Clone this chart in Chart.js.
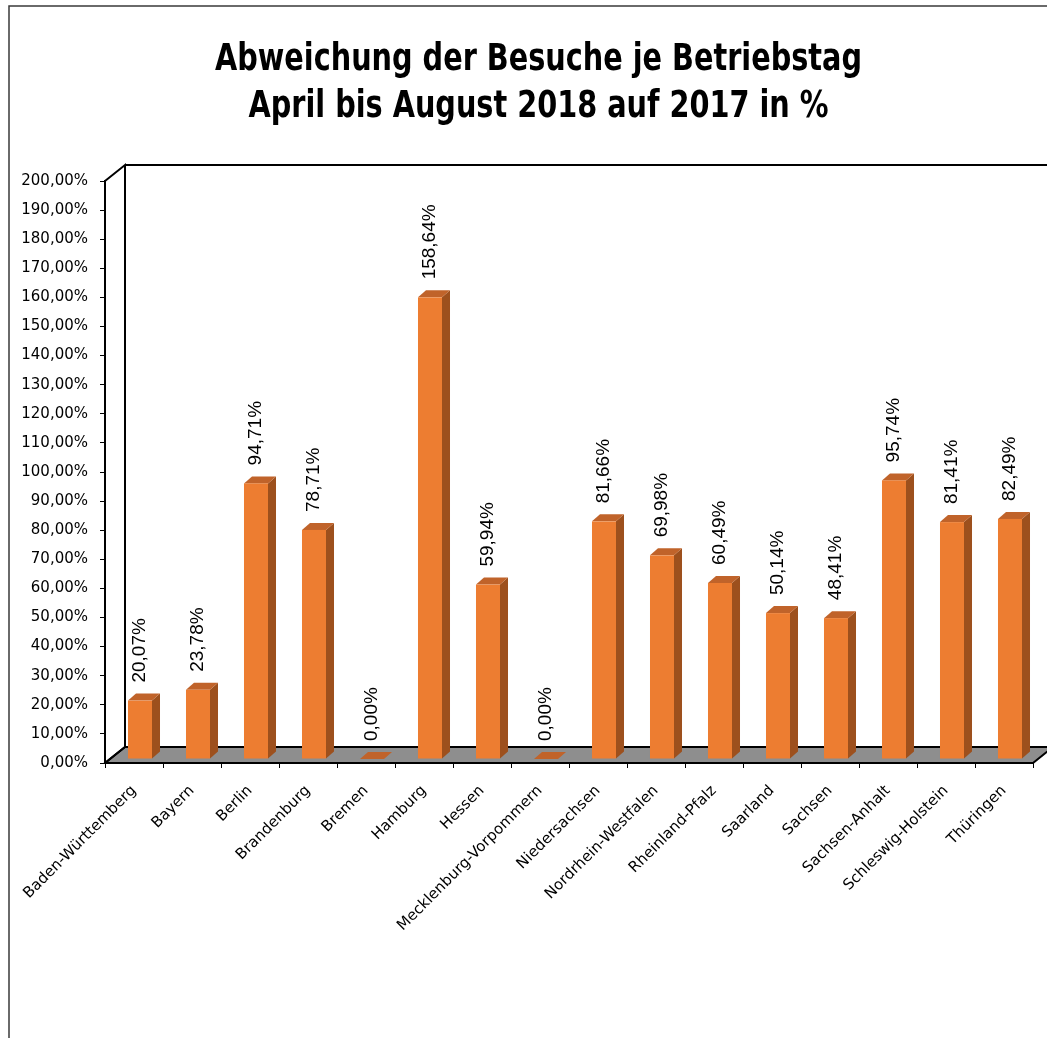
<!DOCTYPE html>
<html>
<head>
<meta charset="utf-8">
<script src="https://cdn.jsdelivr.net/npm/chart.js@4.4.1/dist/chart.umd.min.js"></script>
<style>
  html, body { margin: 0; padding: 0; background: #ffffff; }
  #wrap { width: 1047px; height: 1038px; }
</style>
</head>
<body>
<div id="wrap"><canvas id="c" width="1047" height="1038"></canvas></div>
<script>
const titleLines = ['Abweichung der Besuche je Betriebstag', 'April bis August 2018 auf 2017 in %'];
const categories = ['Baden-Württemberg', 'Bayern', 'Berlin', 'Brandenburg', 'Bremen', 'Hamburg', 'Hessen',
  'Mecklenburg-Vorpommern', 'Niedersachsen', 'Nordrhein-Westfalen', 'Rheinland-Pfalz', 'Saarland',
  'Sachsen', 'Sachsen-Anhalt', 'Schleswig-Holstein', 'Thüringen'];
const values = [20.07, 23.78, 94.71, 78.71, 0.00, 158.64, 59.94, 0.00, 81.66, 69.98, 60.49, 50.14, 48.41, 95.74, 81.41, 82.49];
const yMin = 0, yMax = 200, yStep = 10;

const fmt = v => v.toFixed(2).replace('.', ',') + '%';

// 3D depth of the chart box and of the bars
const BOX_DX = 20, BOX_DY = -16;
const BAR_SHIFT_X = 6, BAR_SHIFT_Y = -4;
const BAR_DX = 8, BAR_DY = -7;

const framePlugin = {
  id: 'frame3d',
  beforeDraw(chart) {
    const ctx = chart.ctx;
    const ca = chart.chartArea;
    const ys = chart.scales.y;
    const B = ys.getPixelForValue(yMin);
    const T = ys.getPixelForValue(yMax);
    const L = ca.left, R = ca.right;
    ctx.save();
    ctx.fillStyle = '#ffffff';
    ctx.fillRect(0, 0, chart.width, chart.height);
    // outer frame
    ctx.strokeStyle = '#3a3a3a';
    ctx.lineWidth = 1.5;
    ctx.strokeRect(9, 6, 1200, 1200);
    // title
    ctx.fillStyle = '#000000';
    ctx.font = 'bold 37px "DejaVu Sans Condensed", "DejaVu Sans", sans-serif';
    ctx.textAlign = 'center';
    ctx.textBaseline = 'alphabetic';
    const sx = 647 / ctx.measureText(titleLines[0]).width;
    titleLines.forEach((line, i) => {
      ctx.save();
      ctx.translate(538.5, 70 + i * 47);
      ctx.scale(sx, 1);
      ctx.fillText(line, 0, 0);
      ctx.restore();
    });
    // floor
    ctx.beginPath();
    ctx.moveTo(L, B);
    ctx.lineTo(R, B);
    ctx.lineTo(R + BOX_DX, B + BOX_DY);
    ctx.lineTo(L + BOX_DX, B + BOX_DY);
    ctx.closePath();
    ctx.fillStyle = '#8e8e8e';
    ctx.fill();
    ctx.strokeStyle = '#000000';
    ctx.lineWidth = 2;
    ctx.lineJoin = 'miter';
    ctx.stroke();
    // back wall lines
    ctx.beginPath();
    ctx.moveTo(L, T);
    ctx.lineTo(L + BOX_DX, T + BOX_DY);
    ctx.lineTo(L + BOX_DX, B + BOX_DY);
    ctx.moveTo(L + BOX_DX, T + BOX_DY);
    ctx.lineTo(R + BOX_DX + 40, T + BOX_DY);
    ctx.moveTo(L, B);
    ctx.lineTo(L + BOX_DX, B + BOX_DY);
    ctx.stroke();
    ctx.restore();
  }
};

const barsPlugin = {
  id: 'bars3d',
  afterDatasetsDraw(chart) {
    const ctx = chart.ctx;
    const meta = chart.getDatasetMeta(0);
    const data = chart.data.datasets[0].data;
    ctx.save();
    meta.data.forEach((el, i) => {
      const p = el.getProps(['x', 'y', 'base', 'width'], true);
      const fl = p.x - p.width / 2 + BAR_SHIFT_X;
      const fr = p.x + p.width / 2 + BAR_SHIFT_X;
      const ft = p.y + BAR_SHIFT_Y;
      const fb = p.base + BAR_SHIFT_Y;
      // side face
      ctx.beginPath();
      ctx.moveTo(fr, ft);
      ctx.lineTo(fr + BAR_DX, ft + BAR_DY);
      ctx.lineTo(fr + BAR_DX, fb + BAR_DY);
      ctx.lineTo(fr, fb);
      ctx.closePath();
      ctx.fillStyle = '#9d501d';
      ctx.fill();
      // top face
      ctx.beginPath();
      ctx.moveTo(fl, ft);
      ctx.lineTo(fl + BAR_DX, ft + BAR_DY);
      ctx.lineTo(fr + BAR_DX, ft + BAR_DY);
      ctx.lineTo(fr, ft);
      ctx.closePath();
      ctx.fillStyle = '#c0632a';
      ctx.fill();
      // front face
      ctx.fillStyle = '#ed7d31';
      ctx.fillRect(fl, ft, fr - fl, fb - ft);
      // value label
      ctx.save();
      ctx.translate((fl + fr) / 2, ft - 18);
      ctx.rotate(-Math.PI / 2);
      ctx.font = '19px "Liberation Sans", Arial, sans-serif';
      ctx.fillStyle = '#000000';
      ctx.textAlign = 'left';
      ctx.textBaseline = 'middle';
      ctx.fillText(fmt(data[i]), 0, 0);
      ctx.restore();
    });
    ctx.restore();
  }
};

new Chart(document.getElementById('c'), {
  type: 'bar',
  data: {
    labels: categories,
    datasets: [{
      data: values,
      backgroundColor: 'rgba(0,0,0,0)',
      borderWidth: 0,
      barPercentage: 0.414,
      categoryPercentage: 1.0
    }]
  },
  options: {
    responsive: false,
    animation: false,
    events: [],
    layout: { padding: { left: 0, right: 14, top: 181, bottom: 0 } },
    plugins: {
      legend: { display: false },
      tooltip: { enabled: false },
      title: { display: false }
    },
    scales: {
      x: {
        offset: true,
        grid: { offset: true, drawOnChartArea: false, drawTicks: true, tickLength: 5, color: '#000000', lineWidth: 1 },
        border: { display: true, color: '#000000', width: 2 },
        ticks: {
          autoSkip: false, minRotation: 45, maxRotation: 45, padding: 14,
          color: '#000000', font: { family: '"DejaVu Sans", sans-serif', size: 15 }
        },
        afterFit(scale) { scale.height = 275; }
      },
      y: {
        min: yMin, max: yMax,
        grid: { drawOnChartArea: false, drawTicks: true, tickLength: 5, color: '#000000', lineWidth: 1 },
        border: { display: true, color: '#000000', width: 2 },
        ticks: {
          stepSize: yStep, padding: 12, color: '#000000',
          font: { family: '"DejaVu Sans", sans-serif', size: 15 },
          callback: v => fmt(v)
        },
        afterFit(scale) { scale.width = 105; }
      }
    }
  },
  plugins: [framePlugin, barsPlugin]
});
</script>
</body>
</html>
